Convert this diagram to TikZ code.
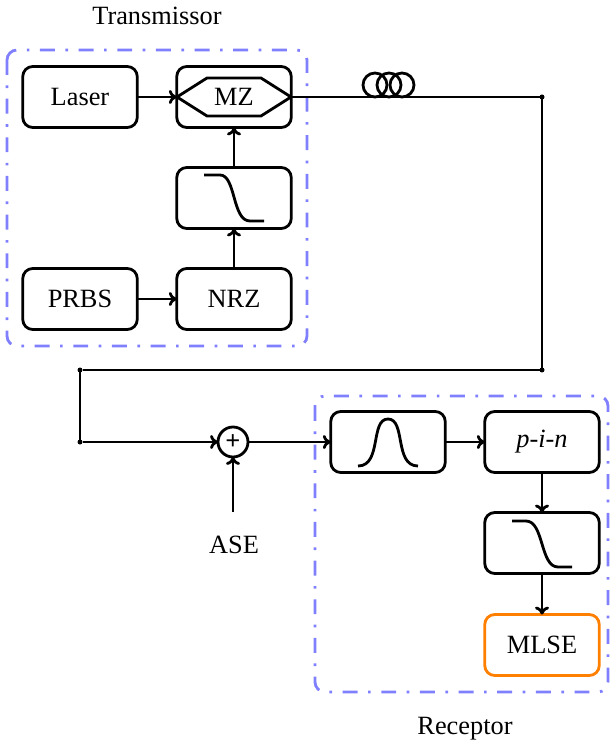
\documentclass[tikz,border=0pt]{standalone}
\usepackage{fontspec}
\setmainfont{Liberation Serif}
\usepackage{pgf,tikz}
\usetikzlibrary{arrows,arrows.meta}

\tikzset{
	block/.style={draw,rounded corners=.2cm,minimum width=2.29cm,minimum height=1.22cm,inner sep=0pt,outer sep=0pt},
	dot/.style={circle,fill=black,inner sep=0pt,minimum size=.1cm,outer sep=0pt},
	frame/.style={draw=blue!50,rounded corners=.2cm,dash pattern=on 8.5pt off 6pt on 1.5pt off 6pt},
	label/.style={inner sep=0pt}
}

\begin{document}
\begin{tikzpicture}[x=.02cm,y=-.02cm,line width=1.6pt,>={Computer Modern Rightarrow[width=8pt,length=4.5pt]},font=\fontsize{15}{18}\selectfont]
	\useasboundingbox (0,0) rectangle (613,742);
	
	\draw[frame] (7,50) rectangle (307,346);
	\draw[frame] (315,396) rectangle (608,692);
	\node[label] (tx) at (157,16) {Transmissor};
	\node[label] (rx) at (465,729) {Receptor};
	
	\node[block] (laser) at (80,97) {Laser};
	\node[block] (mz) at (234,97) {MZ};
	\node[block] (lp1) at (234,198) {};
	\node[block] (prbs) at (80,299) {PRBS};
	\node[block] (nrz) at (234,299) {NRZ};
	\node[block] (bp) at (388,442) {};
	\node[block] (pin) at (542,442) {\textit{p-i-n}};
	\node[block] (lp2) at (542,543) {};
	\node[block,draw=orange] (mlse) at (542,645) {MLSE};
	\node[draw,circle,inner sep=0pt,minimum size=.6cm,outer sep=0pt] (sum) at (233,442) {\textbf{+}};
	\node[label] (ase) at (234,545) {ASE};
	
	\node[dot] (d1) at (542,97) {};
	\node[dot] (d2) at (542,370) {};
	\node[dot] (d3) at (80,370) {};
	\node[dot] (d4) at (80,442) {};
	\coordinate (asein) at (233,512);
	
	% modulator and fibre
	\draw (207,78) -- (261,78) -- (291,97) -- (261,116) -- (207,116) -- (177,97) -- cycle;
	\draw (375,85) circle (12);
	\draw (389,85) circle (12);
	\draw (402,85) circle (12);
	
	% filter curves
	\draw (204,175) -- (220,175) .. controls (236,175) and (232,221) .. (250,221) -- (264,221);
	\draw (512,521) -- (526,521) .. controls (544,521) and (540,567) .. (558,567) -- (572,567);
	\draw (358,466) .. controls (382,466) and (370,419) .. (388,419) .. controls (406,419) and (394,466) .. (418,466);
	
	\draw[->] (laser) -- (mz);
	\draw[->] (prbs) -- (nrz);
	\draw[->] (nrz) -- (lp1);
	\draw[->] (lp1) -- (mz);
	\draw (mz) -- (d1) -- (d2) -- (d3) -- (d4);
	\draw[->] (d4) -- (sum);
	\draw[->] (asein) -- (sum);
	\draw[->] (sum) -- (bp);
	\draw[->] (bp) -- (pin);
	\draw[->] (pin) -- (lp2);
	\draw[->] (lp2) -- (mlse);
	
\end{tikzpicture}
\end{document}
